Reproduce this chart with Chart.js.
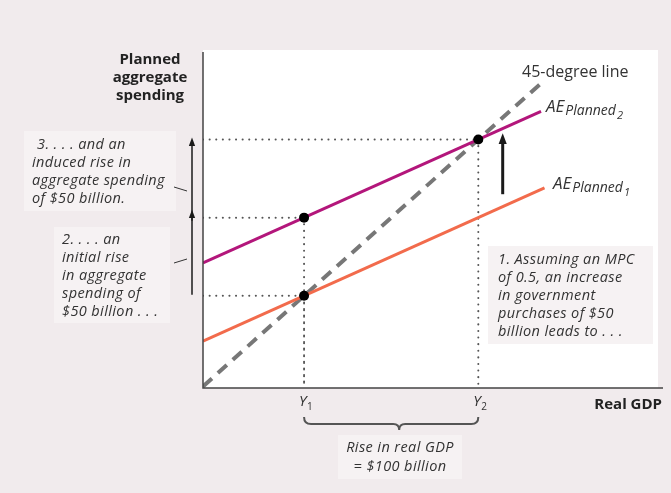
<!DOCTYPE html>
<html>
<head>
<meta charset="utf-8">
<script src="https://cdn.jsdelivr.net/npm/chart.js@4.4.1/dist/chart.umd.min.js"></script>
<style>
  html, body { margin: 0; padding: 0; background: #f1ebed; }
  #wrap { width: 671px; height: 493px; }
</style>
</head>
<body>
<div id="wrap"><canvas id="chart" width="671" height="493"></canvas></div>
<script>
// ── Data (real GDP vs planned aggregate spending, $ billions) ──────────────
const GDP_AXIS  = [142, 406];          // x axis min / max
const AE_AXIS   = [141, 356];          // y axis min / max

const LINE45_X  = [142, 336];
const LINE45_Y  = [142, 336];
const AE1_X     = [142, 338];
const AE1_Y     = [171, 269];          // AE = 100 + 0.5 * GDP
const AE2_X     = [142, 336];
const AE2_Y     = [221, 318];          // AE = 150 + 0.5 * GDP

const EQ_X      = [200, 200, 300];     // Y1, Y1, Y2
const EQ_Y      = [200, 250, 300];

const SHIFT_X   = 314;                 // big arrow between the AE lines
const SHIFT_Y   = [265, 304];

const Y_LABELS  = ['1', '2'];

// ── Helpers ────────────────────────────────────────────────────────────────
const pts = (xs, ys) => xs.map((x, i) => ({ x: x, y: ys[i] }));

// dotted guides from each equilibrium point to both axes
const guides = [];
EQ_X.forEach((x, i) => {
  guides.push({ x: GDP_AXIS[0], y: EQ_Y[i] }, { x: x, y: EQ_Y[i] }, { x: NaN, y: NaN });
  guides.push({ x: x, y: EQ_Y[i] }, { x: x, y: AE_AXIS[0] }, { x: NaN, y: NaN });
});

const FONT = '"Open Sans", "DejaVu Sans", sans-serif';

function arrow(ctx, x, y0, y1, w, head) {
  ctx.save();
  ctx.strokeStyle = '#1a1a1a';
  ctx.fillStyle = '#1a1a1a';
  ctx.lineWidth = w;
  ctx.beginPath();
  ctx.moveTo(x, y0);
  ctx.lineTo(x, y1 + head);
  ctx.stroke();
  ctx.beginPath();
  ctx.moveTo(x, y1);
  ctx.lineTo(x - head * 0.45, y1 + head * 1.2);
  ctx.lineTo(x + head * 0.45, y1 + head * 1.2);
  ctx.closePath();
  ctx.fill();
  ctx.restore();
}

function lines(ctx, arr, x, y, lh) {
  arr.forEach((s, i) => ctx.fillText(s, x, y + i * lh));
}

function aeLabel(ctx, x, y, sub) {
  ctx.font = 'italic 17px ' + FONT;
  ctx.fillText('AE', x, y);
  let w = ctx.measureText('AE').width;
  ctx.font = 'italic 14px ' + FONT;
  ctx.fillText('Planned', x + w + 1, y + 4);
  w += ctx.measureText('Planned').width + 1;
  ctx.font = 'italic 11px ' + FONT;
  ctx.fillText(sub, x + w + 1, y + 9);
}

function yLabel(ctx, x, y, sub) {
  ctx.font = 'italic 15px ' + FONT;
  ctx.fillText('Y', x - 5, y);
  ctx.font = '10px ' + FONT;
  ctx.fillText(sub, x + 3, y + 5);
}

const decor = {
  id: 'decor',
  beforeDraw(chart) {
    const { ctx, chartArea: a } = chart;
    ctx.save();
    ctx.fillStyle = '#f1ebed';
    ctx.fillRect(0, 0, chart.width, chart.height);
    ctx.fillStyle = '#ffffff';
    ctx.fillRect(a.left, a.top - 2, a.right - a.left - 5, a.bottom - a.top + 2);
    // faint text panels
    ctx.fillStyle = '#f6f2f3';
    ctx.fillRect(24, 131, 152, 80);
    ctx.fillRect(54, 227, 116, 96);
    ctx.fillRect(488, 246, 165, 98);
    ctx.fillRect(338, 435, 124, 44);
    ctx.restore();
  },
  afterDraw(chart) {
    const { ctx, chartArea: a, scales: { x: sx, y: sy } } = chart;
    ctx.save();

    // axes
    ctx.strokeStyle = '#444';
    ctx.lineWidth = 1.5;
    ctx.beginPath();
    ctx.moveTo(a.left, a.top);
    ctx.lineTo(a.left, a.bottom);
    ctx.lineTo(a.right, a.bottom);
    ctx.stroke();

    // arrows on the left and between the AE lines
    const ax = a.left - 11;
    arrow(ctx, ax, sy.getPixelForValue(EQ_Y[0]) - 1, sy.getPixelForValue(EQ_Y[1]) - 8, 1.5, 7);
    arrow(ctx, ax, sy.getPixelForValue(EQ_Y[1]) + 3, sy.getPixelForValue(EQ_Y[2]) - 2, 1.5, 7);
    arrow(ctx, sx.getPixelForValue(SHIFT_X), sy.getPixelForValue(SHIFT_Y[0]),
          sy.getPixelForValue(SHIFT_Y[1]), 3, 9);

    // leader ticks
    ctx.strokeStyle = '#333';
    ctx.lineWidth = 1;
    ctx.beginPath();
    ctx.moveTo(174, 187); ctx.lineTo(187, 191);
    ctx.moveTo(174, 263); ctx.lineTo(187, 259);
    ctx.stroke();

    // brace under Y1..Y2
    const b0 = sx.getPixelForValue(EQ_X[0]);
    const b1 = sx.getPixelForValue(EQ_X[2]);
    const bm = (b0 + b1) / 2 + 8;
    const by = 424;
    ctx.strokeStyle = '#555';
    ctx.lineWidth = 2;
    ctx.beginPath();
    ctx.moveTo(b0, by - 7);
    ctx.quadraticCurveTo(b0, by, b0 + 7, by);
    ctx.lineTo(bm - 6, by);
    ctx.quadraticCurveTo(bm, by, bm, by + 6);
    ctx.quadraticCurveTo(bm, by, bm + 6, by);
    ctx.lineTo(b1 - 7, by);
    ctx.quadraticCurveTo(b1, by, b1, by - 7);
    ctx.stroke();

    // axis titles
    ctx.fillStyle = '#222';
    ctx.textBaseline = 'middle';
    ctx.font = 'bold 15px ' + FONT;
    ctx.textAlign = 'center';
    lines(ctx, ['Planned', 'aggregate', 'spending'], 150, 60, 18);
    ctx.textAlign = 'right';
    ctx.fillText('Real GDP', 662, 405);

    // line labels
    ctx.textAlign = 'left';
    ctx.fillStyle = '#333';
    ctx.font = '16px ' + FONT;
    ctx.fillText('45-degree line', 522, 72);
    aeLabel(ctx, 546, 107, '2');
    aeLabel(ctx, 553, 184, '1');

    // Y ticks
    ctx.fillStyle = '#333';
    EQ_X.filter((v, i) => i !== 1).forEach((v, i) => yLabel(ctx, sx.getPixelForValue(v), 402, Y_LABELS[i]));

    // annotations
    ctx.font = 'italic 14.5px ' + FONT;
    ctx.letterSpacing = '0.4px';
    ctx.fillStyle = '#333';
    ctx.fillText('3. . . . and an', 37, 145);
    lines(ctx, ['induced rise in', 'aggregate spending', 'of $50 billion.'], 32, 163, 18);
    lines(ctx, ['2. . . . an', 'initial rise', 'in aggregate', 'spending of', '$50 billion . . .'], 62, 240, 18);
    lines(ctx, ['1. Assuming an MPC', 'of 0.5, an increase', 'in government',
                'purchases of $50', 'billion leads to . . .'], 498, 260, 18);
    ctx.textAlign = 'center';
    lines(ctx, ['Rise in real GDP', '= $100 billion'], 400, 448, 19);

    ctx.restore();
  }
};

new Chart(document.getElementById('chart'), {
  type: 'scatter',
  data: {
    datasets: [
      { data: pts(EQ_X, EQ_Y), showLine: false, pointRadius: 5, pointBackgroundColor: '#000',
        pointBorderWidth: 0, order: 0 },
      { data: pts(AE2_X, AE2_Y), showLine: true, borderColor: '#b3167b', borderWidth: 3,
        pointRadius: 0, order: 1 },
      { data: pts(AE1_X, AE1_Y), showLine: true, borderColor: '#f26b4c', borderWidth: 3,
        pointRadius: 0, order: 1 },
      { data: pts(LINE45_X, LINE45_Y), showLine: true, borderColor: '#777', borderWidth: 4,
        borderDash: [12, 8], pointRadius: 0, order: 2 },
      { data: guides, showLine: true, spanGaps: false, borderColor: '#555', borderWidth: 2,
        borderDash: [0.1, 6.5], borderCapStyle: 'round', pointRadius: 0, order: 3 },
    ]
  },
  options: {
    responsive: false,
    animation: false,
    layout: { padding: { left: 203, right: 8, top: 52, bottom: 105 } },
    plugins: { legend: { display: false }, tooltip: { enabled: false } },
    scales: {
      x: { type: 'linear', display: false, min: GDP_AXIS[0], max: GDP_AXIS[1] },
      y: { type: 'linear', display: false, min: AE_AXIS[0], max: AE_AXIS[1] }
    }
  },
  plugins: [decor]
});
</script>
</body>
</html>
